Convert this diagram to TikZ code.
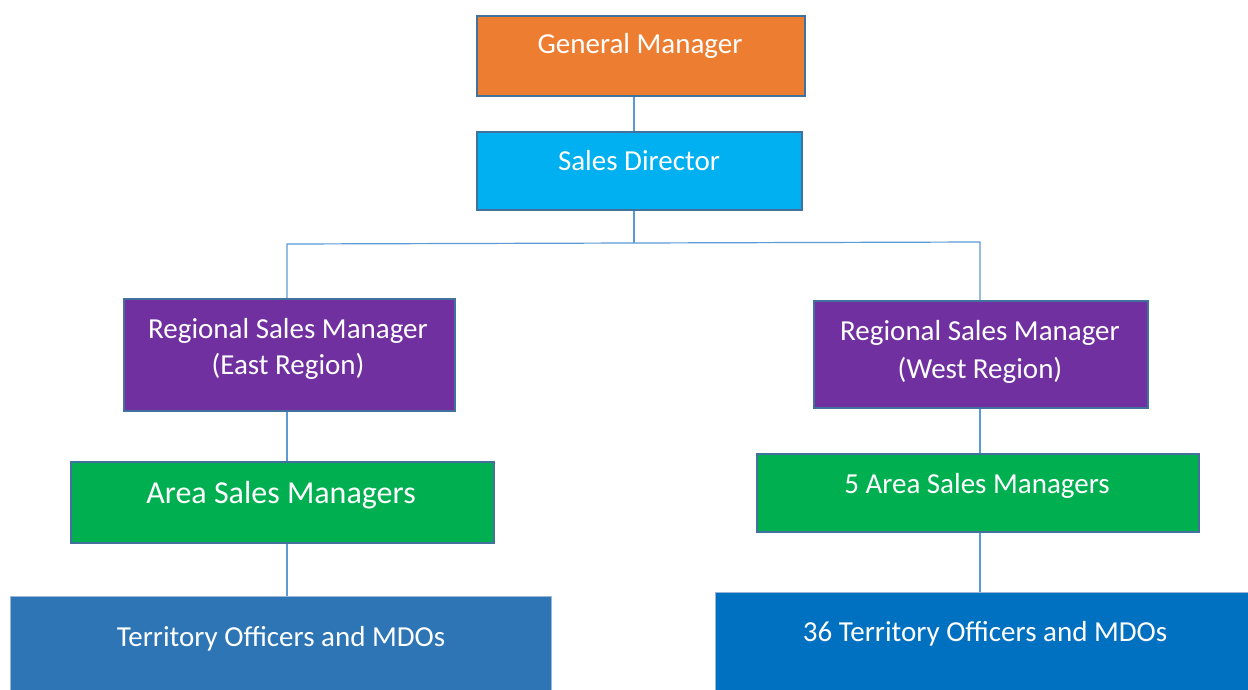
\documentclass[tikz,border=0pt]{standalone}
\usepackage{fontspec}
\setmainfont{Carlito}
\definecolor{bord}{HTML}{41719C}
\definecolor{conn}{HTML}{5B9BD5}
\definecolor{cgm}{HTML}{ED7D31}
\definecolor{csd}{HTML}{00B0F0}
\definecolor{crsm}{HTML}{7030A0}
\definecolor{casm}{HTML}{00B050}
\definecolor{ctoe}{HTML}{2E75B6}
\definecolor{ctow}{HTML}{0070C0}
\definecolor{lbord}{HTML}{9DB5D6}
\tikzset{
  box/.style={draw=bord, line width=2pt, anchor=north west, inner sep=0pt},
  lightbox/.style={draw=lbord, line width=1pt, anchor=north west, inner sep=0pt},
  lbl/.style={text=white, anchor=base, inner sep=0pt, font=\fontsize{29}{36}\selectfont},
  conline/.style={draw=conn, line width=1.2pt}
}
\begin{document}
\begin{tikzpicture}[x=1pt,y=-1pt]
\useasboundingbox (0,0) rectangle (1248,689);
\clip (0,0) rectangle (1248,689);
\fill[white] (0,0) rectangle (1248,689);
% boxes
\node[box, fill=cgm, minimum width=328, minimum height=80] (gm) at (476,15) {};
\node[box, fill=csd, minimum width=325, minimum height=78] (sd) at (476,131) {};
\node[box, fill=crsm, minimum width=331, minimum height=112] (rsme) at (123,298) {};
\node[box, fill=crsm, minimum width=334, minimum height=107] (rsmw) at (813,300) {};
\node[box, fill=casm, minimum width=423, minimum height=81] (asme) at (70,461) {};
\node[box, fill=casm, minimum width=442, minimum height=78] (asmw) at (756,453) {};
\node[lightbox, fill=ctoe, minimum width=541, minimum height=110] (toe) at (10,596) {};
\node[lightbox, fill=ctow, minimum width=540, minimum height=110] (tow) at (715,592) {};
% labels
\node[lbl] (tgm) at (640,53) {General Manager};
\node[lbl] (tsd) at (639,170) {Sales Director};
\node[lbl] (trsme1) at (288,338) {Regional Sales Manager};
\node[lbl] (trsme2) at (288,374) {(East Region)};
\node[lbl] (trsmw1) at (980,340) {Regional Sales Manager};
\node[lbl] (trsmw2) at (980,378) {(West Region)};
\node[lbl, font=\fontsize{32}{38}\selectfont] (tasme) at (281,503) {Area Sales Managers};
\node[lbl] (tasmw) at (977,493) {5 Area Sales Managers};
\node[lbl] (ttoe) at (281,646) {Territory Officers and MDOs};
\node[lbl] (ttow) at (985,641) {36 Territory Officers and MDOs};
% connectors
\coordinate (jl) at (287,244);
\coordinate (jr) at (980,242);
\coordinate (jm) at (634,243);
\coordinate (xe) at (287,0);
\coordinate (xw) at (980,0);
\draw[conline] (gm.south -| jm) -- (sd.north -| jm);
\draw[conline] (sd.south -| jm) -- (jm);
\draw[conline] (rsme.north -| xe) -- (jl) -- (jr) -- (rsmw.north -| xw);
\draw[conline] (rsme.south -| xe) -- (asme.north -| xe);
\draw[conline] (asme.south -| xe) -- (toe.north -| xe);
\draw[conline] (rsmw.south -| xw) -- (asmw.north -| xw);
\draw[conline] (asmw.south -| xw) -- (tow.north -| xw);
\end{tikzpicture}
\end{document}
